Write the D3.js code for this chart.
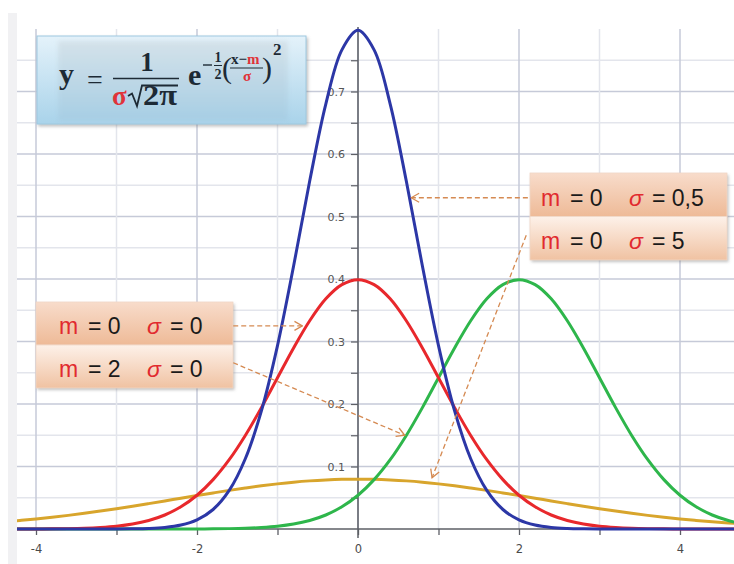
<!DOCTYPE html>
<html><head><meta charset="utf-8">
<script src="https://cdn.jsdelivr.net/npm/d3@7"></script>
<style>html,body{margin:0;padding:0;background:#fff;} svg{display:block;}</style>
</head><body><svg id="chart" width="734" height="564"></svg>
<script>
// ---- data ----
const xValues = [-4.4,-4.2,-4.0,-3.8,-3.6,-3.4,-3.2,-3.0,-2.8,-2.6,-2.4,-2.2,-2.0,-1.8,-1.6,-1.4,-1.2,-1.0,-0.8,-0.6,-0.4,-0.2,0,0.2,0.4,0.6,0.8,1.0,1.2,1.4,1.6,1.8,2.0,2.2,2.4,2.6,2.8,3.0,3.2,3.4,3.6,3.8,4.0,4.2,4.4,4.6,4.8];
// blue curve (m = 0, σ = 0,5)
const blueValues = [0,0,0,0,0,0,0,0.0001,0.0003,0.0009,0.0025,0.0063,0.0146,0.0312,0.0617,0.1124,0.1890,0.2935,0.4207,0.5567,0.6799,0.7666,0.7979,0.7666,0.6799,0.5567,0.4207,0.2935,0.1890,0.1124,0.0617,0.0312,0.0146,0.0063,0.0025,0.0009,0.0003,0.0001,0,0,0,0,0,0,0,0,0];
// red curve (m = 0)
const redValues = [0.0000,0.0001,0.0001,0.0003,0.0006,0.0012,0.0024,0.0044,0.0079,0.0136,0.0224,0.0355,0.0540,0.0790,0.1109,0.1497,0.1942,0.2420,0.2897,0.3332,0.3683,0.3910,0.3989,0.3910,0.3683,0.3332,0.2897,0.2420,0.1942,0.1497,0.1109,0.0790,0.0540,0.0355,0.0224,0.0136,0.0079,0.0044,0.0024,0.0012,0.0006,0.0003,0.0001,0.0001,0.0000,0.0000,0.0000];
// green curve (m = 2)
const greenValues = [0,0,0,0,0,0,0,0,0,0,0,0,0.0001,0.0003,0.0006,0.0012,0.0024,0.0044,0.0079,0.0136,0.0224,0.0355,0.0540,0.0790,0.1109,0.1497,0.1942,0.2420,0.2897,0.3332,0.3683,0.3910,0.3989,0.3910,0.3683,0.3332,0.2897,0.2420,0.1942,0.1497,0.1109,0.0790,0.0540,0.0355,0.0224,0.0136,0.0079];
// gold curve (m = 0, σ = 5)
const goldValues = [0.0115,0.0137,0.0161,0.0188,0.0218,0.0251,0.0287,0.0324,0.0364,0.0406,0.0449,0.0492,0.0535,0.0577,0.0618,0.0656,0.0691,0.0722,0.0749,0.0770,0.0785,0.0795,0.0798,0.0795,0.0785,0.0770,0.0749,0.0722,0.0691,0.0656,0.0618,0.0577,0.0535,0.0492,0.0449,0.0406,0.0364,0.0324,0.0287,0.0251,0.0218,0.0188,0.0161,0.0137,0.0115,0.0096,0.0080];

const xTicks = [-4,-3,-2,-1,0,1,2,3,4];
const xTickLabels = ["-4","","-2","","0","","2","","4"];
const yTicks = [0.05,0.1,0.15,0.2,0.25,0.3,0.35,0.4,0.45,0.5,0.55,0.6,0.65,0.7,0.75];
const yTickLabels = ["","0.1","","0.2","","0.3","","0.4","","0.5","","0.6","","0.7",""];

// annotations: label parts and arrows in data units
const rightLabels = [["m","= 0","σ","= 0,5"],["m","= 0","σ","= 5"]];
const leftLabels  = [["m","= 0","σ","= 0"],["m","= 2","σ","= 0"]];
const arrows = [
  {x1:2.11, y1:0.53,  x2:0.66, y2:0.53},
  {x1:2.09, y1:0.47,  x2:0.92, y2:0.082},
  {x1:-1.55,y1:0.325, x2:-0.69,y2:0.325},
  {x1:-1.55,y1:0.266, x2:0.58, y2:0.150}
];

// ---- drawing ----
const svg = d3.select("#chart");
const PL = 17, PR = 734, PT = 29, PB = 529;
const x = d3.scaleLinear().domain([-4,4]).range([36,680]);
const y = d3.scaleLinear().domain([0,0.8]).range([PB,PT]);

const defs = svg.append("defs");
defs.append("clipPath").attr("id","plotclip").append("rect")
  .attr("x",PL).attr("y",0).attr("width",PR-PL).attr("height",564);

function grad(id, stops){
  const g = defs.append("linearGradient").attr("id",id).attr("x1",0).attr("y1",0).attr("x2",0).attr("y2",1);
  stops.forEach(s=>g.append("stop").attr("offset",s[0]).attr("stop-color",s[1]));
}
grad("fOuter",[[0,"#e4f2fa"],[1,"#a9d3ea"]]);
grad("fInner",[[0,"#d3e0e7"],[1,"#a6cde3"]]);
grad("row1",[[0,"#f8dccb"],[1,"#eeba97"]]);
grad("row2",[[0,"#fdf1e9"],[1,"#f0c2a2"]]);

const sh = defs.append("filter").attr("id","shadow").attr("x",-0.1).attr("y",-0.1).attr("width",1.3).attr("height",1.4);
sh.append("feDropShadow").attr("dx",1.5).attr("dy",2).attr("stdDeviation",1.8).attr("flood-color","#777").attr("flood-opacity",0.45);
const bl = defs.append("filter").attr("id","blur").attr("x",-0.1).attr("y",-0.1).attr("width",1.2).attr("height",1.2);
bl.append("feGaussianBlur").attr("stdDeviation",2);

defs.append("marker").attr("id","arrowhead").attr("viewBox","0 -6 10 12")
  .attr("refX",9).attr("refY",0).attr("markerWidth",10).attr("markerHeight",12)
  .attr("markerUnits","userSpaceOnUse").attr("orient","auto")
  .append("path").attr("d","M1,-4.5L9,0L1,4.5").attr("fill","none")
  .attr("stroke","#d58a52").attr("stroke-width",1.3);

// left light strip
svg.append("rect").attr("x",8).attr("y",13).attr("width",PL-8).attr("height",564-13).attr("fill","#f1f1f3");

// grid
const grid = svg.append("g");
grid.selectAll("line.h").data(yTicks).join("line")
  .attr("x1",PL).attr("x2",PR).attr("y1",d=>y(d)).attr("y2",d=>y(d))
  .attr("stroke",(d,i)=> i%2===1 ? "#c6cad8" : "#e3e5ec").attr("stroke-width",1.5);
grid.selectAll("line.v").data(xTicks).join("line")
  .attr("x1",d=>x(d)).attr("x2",d=>x(d)).attr("y1",PT).attr("y2",PB)
  .attr("stroke",(d,i)=> i%2===0 ? "#c6cad8" : "#e3e5ec").attr("stroke-width",1.5);

const tickFont = "'DejaVu Sans', Verdana, sans-serif";
// axes
const xAxis = svg.append("g").attr("transform",`translate(0,${y(0)})`)
  .call(d3.axisBottom(x).tickValues(xTicks).tickSize(6).tickPadding(10).tickSizeOuter(0)
    .tickFormat((d,i)=>xTickLabels[i]));
xAxis.select(".domain").remove();
xAxis.append("line").attr("x1",PL).attr("x2",PR).attr("y1",0).attr("y2",0).attr("stroke","#5d5f66").attr("stroke-width",1.5);
xAxis.selectAll(".tick line").attr("stroke","#5d5f66").attr("stroke-width",1.3);
xAxis.selectAll("text").attr("fill","#4a4a4a").style("font-family",tickFont).style("font-size","11.5px");

const yAxis = svg.append("g").attr("transform",`translate(${x(0)},0)`)
  .call(d3.axisLeft(y).tickValues(yTicks).tickSize(7).tickPadding(6).tickSizeOuter(0)
    .tickFormat((d,i)=>yTickLabels[i]));
yAxis.select(".domain").remove();
yAxis.append("line").attr("x1",0).attr("x2",0).attr("y1",PT-2).attr("y2",PB+9).attr("stroke","#5d5f66").attr("stroke-width",1.5);
yAxis.selectAll(".tick line").attr("stroke","#5d5f66").attr("stroke-width",1.2);
yAxis.selectAll("text").attr("fill","#555").style("font-family",tickFont).style("font-size","11px");

// curves
const series = [
  {vals:goldValues,  color:"#d8a52c"},
  {vals:greenValues, color:"#2eb64b"},
  {vals:redValues,   color:"#e8282c"},
  {vals:blueValues,  color:"#2c37a6"}
];
const line = d3.line().x((d,i)=>x(xValues[i])).y(d=>y(d)).curve(d3.curveCatmullRom);
svg.append("g").attr("clip-path","url(#plotclip)").selectAll("path").data(series).join("path")
  .attr("d",d=>line(d.vals)).attr("fill","none").attr("stroke",d=>d.color)
  .attr("stroke-width",3).attr("stroke-linejoin","round").attr("stroke-linecap","round");

// formula box
const fb = svg.append("g");
fb.append("rect").attr("x",37).attr("y",36).attr("width",269).attr("height",88)
  .attr("fill","url(#fOuter)").attr("stroke","#9ec8df").attr("stroke-width",1).attr("filter","url(#shadow)");
fb.append("rect").attr("x",58).attr("y",41).attr("width",230).attr("height",80)
  .attr("fill","url(#fInner)").attr("opacity",0.85).attr("filter","url(#blur)");
const ink = "#1d2a35", red = "#e0333a";
const serif = "'Liberation Serif','DejaVu Serif',serif";
function ft(txt, xx, yy, size, color, anchor, weight){
  return fb.append("text").attr("x",xx).attr("y",yy).text(txt)
    .attr("fill",color||ink).attr("text-anchor",anchor||"start")
    .style("font-family",serif).style("font-size",size+"px").style("font-weight",weight||"bold");
}
ft("y",59,84,30);
ft("=",87,89,28,ink,"start","normal");
ft("1",147,71,27,ink,"middle");
fb.append("line").attr("x1",113).attr("x2",179).attr("y1",78.5).attr("y2",78.5).attr("stroke",ink).attr("stroke-width",1.6);
ft("σ",112,105,27,red);
fb.append("path").attr("d","M128,96 L132,93.5 L137,106 L142,85.5 L178,85.5").attr("fill","none").attr("stroke",ink).attr("stroke-width",1.8);
ft("2π",143,105,29).attr("textLength",34).attr("lengthAdjust","spacingAndGlyphs");
ft("e",188,85,30);
fb.append("line").attr("x1",203).attr("x2",212).attr("y1",65).attr("y2",65).attr("stroke",ink).attr("stroke-width",1.4);
ft("1",218,62,14,ink,"middle");
fb.append("line").attr("x1",214).attr("x2",222).attr("y1",65.5).attr("y2",65.5).attr("stroke",ink).attr("stroke-width",1);
ft("2",218,79,14,ink,"middle");
ft("(",222,78,30,ink,"start","normal");
const xm = ft("",231,64,15);
xm.append("tspan").text("x−");
xm.append("tspan").text("m").attr("fill",red);
fb.append("line").attr("x1",230).attr("x2",263).attr("y1",68).attr("y2",68).attr("stroke",ink).attr("stroke-width",1);
ft("σ",247,81,15,red,"middle");
ft(")",262,78,30,ink,"start","normal");
ft("2",273,55,17);

// label boxes
const sans = "'Liberation Sans', Arial, sans-serif";
function labelBox(x0, y0, w, rh, rows, xs, base){
  const g = svg.append("g");
  g.append("rect").attr("x",x0).attr("y",y0).attr("width",w).attr("height",rh*2)
    .attr("fill","#f4d0b8").attr("filter","url(#shadow)");
  rows.forEach((r,i)=>{
    g.append("rect").attr("x",x0).attr("y",y0+i*rh).attr("width",w).attr("height",rh)
      .attr("fill",i===0?"url(#row1)":"url(#row2)").attr("stroke","#efd6c6").attr("stroke-width",0.8);
    const by = y0 + i*rh + base;
    r.forEach((p,j)=>{
      g.append("text").attr("x",xs[j]).attr("y",by).text(p)
        .attr("fill", j%2===0 ? "#e12a2f" : "#1a1a1a")
        .style("font-family",sans).style("font-size","23px")
        .style("font-style", j===2 ? "italic" : "normal");
    });
  });
}
labelBox(530,173,197,43.5,rightLabels,[541,570,629,652],32.5);
labelBox(36,302,197,43,leftLabels,[59,88,147,170],32);

// arrows
svg.append("g").selectAll("line").data(arrows).join("line")
  .attr("x1",d=>x(d.x1)).attr("y1",d=>y(d.y1)).attr("x2",d=>x(d.x2)).attr("y2",d=>y(d.y2))
  .attr("stroke","#d58a52").attr("stroke-width",1.3).attr("stroke-dasharray","5,3")
  .attr("marker-end","url(#arrowhead)");
</script></body></html>
